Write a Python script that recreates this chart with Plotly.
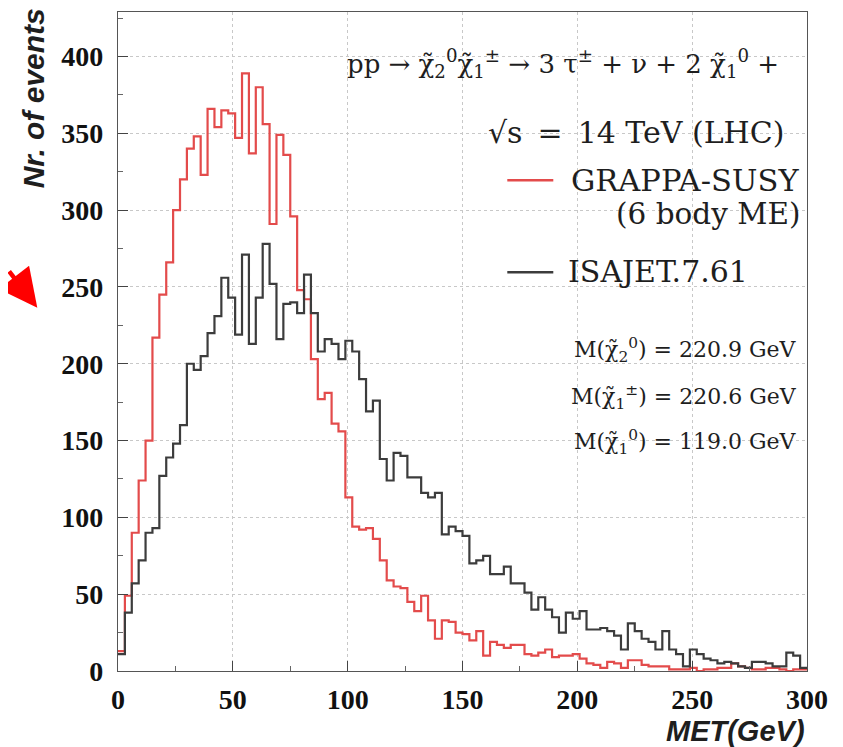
import numpy as np
import plotly.graph_objects as go

bin_width = 3
n_bins = 100
edges = np.arange(n_bins + 1) * bin_width

grappa = [13, 49, 90, 124, 150, 217, 245, 266, 300, 320,
          340, 348, 323, 366, 354, 365, 363, 347, 389, 337,
          380, 356, 291, 349, 336, 296, 248, 242, 203, 177,
          181, 161, 156, 113, 94, 92, 93, 86, 72, 59,
          55, 54, 45, 39, 49, 33, 21, 33, 32, 25,
          24, 20, 26, 10, 19, 17, 15, 17, 17, 11,
          10, 12, 14, 9, 10, 10, 11, 8, 5, 4,
          2, 6, 5, 2, 7, 7, 4, 3, 3, 3,
          1, 1, 1, 2, 0, 1, 1, 2, 2, 5,
          3, 2, 1, 1, 2, 2, 1, 0, 1, 1]

isajet = [11, 38, 57, 72, 90, 93, 127, 139, 148, 160,
          200, 196, 205, 220, 231, 256, 243, 219, 271, 213,
          243, 278, 252, 216, 239, 240, 233, 258, 233, 208,
          216, 213, 203, 215, 208, 190, 169, 176, 138, 124,
          142, 140, 126, 126, 116, 113, 116, 89, 94, 91,
          88, 70, 72, 75, 63, 63, 68, 57, 57, 51,
          40, 48, 40, 35, 25, 38, 34, 39, 27, 27,
          28, 26, 23, 14, 31, 26, 21, 19, 14, 26,
          14, 11, 3, 14, 11, 8, 7, 5, 6, 5,
          3, 2, 6, 6, 5, 3, 3, 12, 10, 2]

x_ticks = [0, 50, 100, 150, 200, 250, 300]
y_ticks = [0, 50, 100, 150, 200, 250, 300, 350, 400]

RED = "#e34b4b"
BLACK = "#3c3c3c"


def step_xy(vals):
    xs = list(edges)
    ys = list(vals) + [vals[-1]]
    return xs, ys


fig = go.Figure()
for vals, col, name in [(grappa, RED, "GRAPPA-SUSY (6 body ME)"),
                        (isajet, BLACK, "ISAJET.7.61")]:
    xs, ys = step_xy(vals)
    fig.add_trace(go.Scatter(x=xs, y=ys, mode="lines", line_shape="hv",
                             line=dict(color=col, width=2.2), name=name,
                             showlegend=False, hoverinfo="skip"))

W, H = 843, 747
OFF = 8  # page body margin
# plot area in page pixels
PL, PR, PT, PB = 117.7, 806.7, 12.0, 671.5
pw, ph = PR - PL, PB - PT


def px(xp):
    return (xp - PL) / pw


def py(yp):
    return (PB - yp) / ph


serif = "DejaVu Serif"
tick_serif = "Liberation Serif"
sans = "Liberation Sans"
TXT = "#1e1e1e"

ann = []
ann.append(dict(x=px(345), y=py(64), xref="paper", yref="paper", xanchor="left", yanchor="middle",
                text="pp → χ̃<sub>2</sub><sup>0</sup>χ̃<sub>1</sub><sup>±</sup> → 3 τ<sup>±</sup> + ν + 2 χ̃<sub>1</sub><sup>0</sup> +",
                showarrow=False, font=dict(family=serif, size=26, color=TXT)))
ann.append(dict(x=px(786), y=py(133), xref="paper", yref="paper", xanchor="right", yanchor="middle",
                text="√s\u2002=\u200214 TeV (LHC)", showarrow=False,
                font=dict(family=serif, size=30, color=TXT)))
ann.append(dict(x=px(801), y=py(181), xref="paper", yref="paper", xanchor="right", yanchor="middle",
                text="GRAPPA-SUSY", showarrow=False,
                font=dict(family=serif, size=30.5, color=TXT)))
ann.append(dict(x=px(802), y=py(214), xref="paper", yref="paper", xanchor="right", yanchor="middle",
                text="(6 body ME)", showarrow=False,
                font=dict(family=serif, size=29.5, color=TXT)))
ann.append(dict(x=px(566), y=py(272), xref="paper", yref="paper", xanchor="left", yanchor="middle",
                text="ISAJET.7.61", showarrow=False,
                font=dict(family=serif, size=30, color=TXT)))
for yy, lab in [(350, "M(χ̃<sub>2</sub><sup>0</sup>) = 220.9 GeV"),
                (397, "M(χ̃<sub>1</sub><sup>±</sup>) = 220.6 GeV"),
                (442, "M(χ̃<sub>1</sub><sup>0</sup>) = 119.0 GeV")]:
    ann.append(dict(x=px(799), y=py(yy), xref="paper", yref="paper", xanchor="right", yanchor="middle",
                    text=lab, showarrow=False,
                    font=dict(family=serif, size=22, color=TXT)))
ann.append(dict(x=px(807), y=py(732), xref="paper", yref="paper", xanchor="right", yanchor="middle",
                text="<b><i>MET(GeV)</i></b>", showarrow=False,
                font=dict(family=sans, size=29, color=TXT)))
ann.append(dict(x=px(33), y=py(6), xref="paper", yref="paper", xanchor="center", yanchor="top",
                text="<b><i>Nr. of events</i></b>", textangle=-90, showarrow=False,
                font=dict(family=sans, size=30, color=TXT)))
ann.append(dict(x=px(37), y=py(308), xref="paper", yref="paper", showarrow=True,
                ax=-70, ay=-38, arrowhead=2, arrowsize=1.7, arrowwidth=4.5,
                arrowcolor="#ff0000", text=""))

shapes = []
for yy, col in [(180.5, RED), (272.5, BLACK)]:
    shapes.append(dict(type="line", xref="paper", yref="paper",
                       x0=px(507), x1=px(553), y0=py(yy), y1=py(yy),
                       line=dict(color=col, width=2.5)))

fig.update_layout(
    width=W, height=H,
    margin=dict(l=PL - OFF, r=W - (PR - OFF), t=PT - OFF, b=H - (PB - OFF), pad=0),
    paper_bgcolor="white", plot_bgcolor="white",
    annotations=ann, shapes=shapes, showlegend=False,
)
axis_common = dict(ticks="inside", ticklen=10, tickcolor="#444", showline=True,
                   linecolor="#555", linewidth=1.2, mirror=True,
                   showgrid=True, gridcolor="#c8c8c8", griddash="dot", gridwidth=1,
                   zeroline=False,
                   tickfont=dict(family=tick_serif, size=28, color="#111", weight="bold"),
                   minor=dict(dtick=25, ticks="inside", ticklen=5, tickcolor="#666",
                              showgrid=False))
fig.update_xaxes(range=[0, 300], tickvals=x_ticks, ticklabelstandoff=3, **axis_common)
fig.update_yaxes(range=[0, 429], tickvals=y_ticks, ticklabelstandoff=8, **axis_common)

fig.write_html("out.html")
